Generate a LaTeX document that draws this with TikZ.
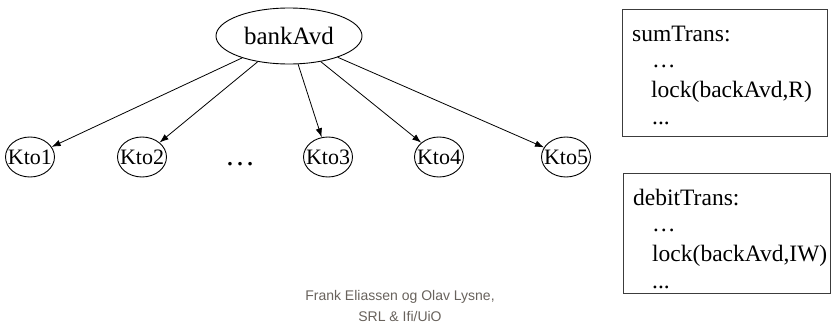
\documentclass[tikz,border=0pt]{standalone}
\usepackage{fontspec}
\setmainfont{Liberation Serif}
\newfontfamily\footfont{Liberation Sans}
\usetikzlibrary{shapes.geometric,arrows.meta}
\definecolor{footgray}{RGB}{104,98,92}
\definecolor{boxline}{RGB}{60,60,60}
\tikzset{
  root/.style={ellipse,draw,line width=0.9pt,inner sep=0pt,
    minimum width=146pt,minimum height=56pt,
    font=\fontsize{25}{28}\selectfont},
  acct/.style={ellipse,draw,line width=0.9pt,inner sep=0pt,
    minimum width=49pt,minimum height=40pt,
    font=\fontsize{22}{26}\selectfont},
  link/.style={line width=0.8pt,-{Latex[length=9pt,width=6.5pt]}},
  trbox/.style={draw=boxline,line width=1.2pt,inner sep=0pt,anchor=north west},
  trtext/.style={anchor=base west,inner sep=0pt,font=\fontsize{23.5}{28}\selectfont},
  foot/.style={inner sep=0pt,text=footgray,font=\footfont\fontsize{14}{16}\selectfont}
}
\newcommand{\acctlabel}[1]{\makebox[30pt]{#1}}
\begin{document}
\begin{tikzpicture}[x=1pt,y=-1pt]
  \useasboundingbox (0,0) rectangle (832,332);

  % tree of the bank department and its accounts
  \node[root] (bank) at (289,36) {bankAvd};
  \node[acct] (k1) at (30,157) {\acctlabel{Kto1}};
  \node[acct] (k2) at (142,157) {\acctlabel{Kto2}};
  \node[acct] (k3) at (328,157) {\acctlabel{Kto3}};
  \node[acct] (k4) at (439,157) {\acctlabel{Kto4}};
  \node[acct] (k5) at (566,157) {\acctlabel{Kto5}};
  \node[anchor=base,inner sep=0pt,font=\fontsize{30}{32}\selectfont] (more) at (240,165) {…};

  \foreach \k in {k1,k2,k3,k4,k5}
    \draw[link] (bank) -- (\k);

  % transaction boxes
  \node[trbox,minimum width=205pt,minimum height=127pt] (sumbox) at (622,9) {};
  \node[trtext] (s1) at (632,41) {sumTrans:};
  \node[trtext] (s2) at (652,67) {…};
  \node[trtext] (s3) at (651,97) {lock(backAvd,R)};
  \node[trtext] (s4) at (652,124) {...};

  \node[trbox,minimum width=207pt,minimum height=120pt] (debbox) at (623,173) {};
  \node[trtext] (d1) at (633,205) {debitTrans:};
  \node[trtext] (d2) at (652,231) {…};
  \node[trtext] (d3) at (652,261) {lock(backAvd,IW)};
  \node[trtext] (d4) at (652,288) {...};

  % footer
  \node[foot] (f1) at (400,297) {Frank Eliassen og Olav Lysne,};
  \node[foot] (f2) at (400,316) {SRL \& Ifi/UiO};
\end{tikzpicture}
\end{document}
